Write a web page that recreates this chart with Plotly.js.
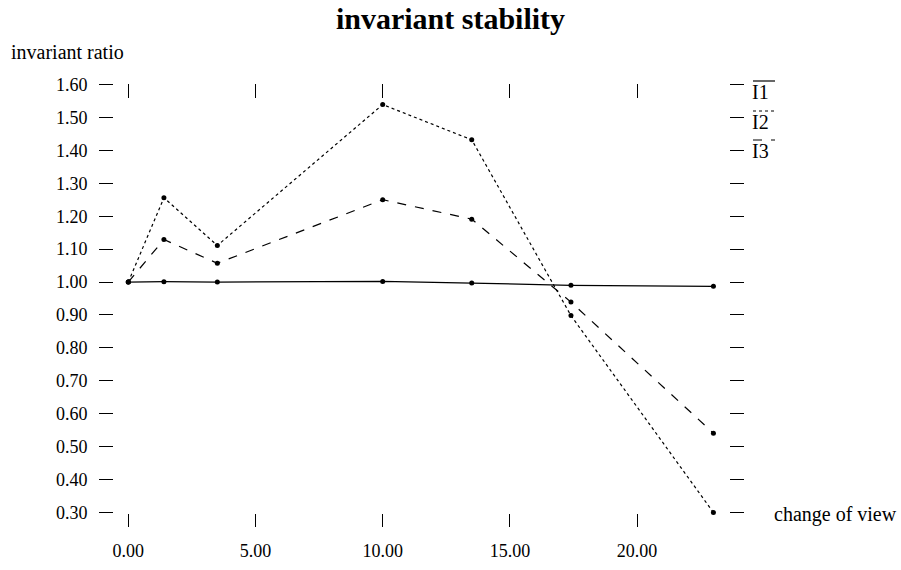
<!DOCTYPE html>
<html>
<head>
<meta charset="utf-8">
<script src="https://cdn.plot.ly/plotly-3.0.1.min.js"></script>
<style>html,body{margin:0;padding:0;background:#fff;}</style>
</head>
<body>
<div id="chart" style="width:901px;height:570px;"></div>
<script>
const changeOfView = [0, 1.4, 3.5, 10, 13.5, 17.4, 23];
const I1 = [1.0, 1.001, 1.0, 1.002, 0.997, 0.99, 0.987];
const I2 = [1.0, 1.256, 1.111, 1.539, 1.432, 0.898, 0.30];
const I3 = [1.0, 1.129, 1.057, 1.25, 1.191, 0.939, 0.541];
const seriesNames = ['I1', 'I2', 'I3'];
const xTicks = [0, 5, 10, 15, 20];
const yTicks = [0.3,0.4,0.5,0.6,0.7,0.8,0.9,1.0,1.1,1.2,1.3,1.4,1.5,1.6];

const FONT = 'Liberation Serif, Times New Roman, serif';
const dashes = ['solid', 'dot', 'dash'];
const values = [I1, I2, I3];

const L = 114, R = 729, T = 84, B = 513, W = 901, H = 570;
const px = v => (v - L) / (R - L);
const py = v => (B - v) / (B - T);

const traces = values.map((ys, i) => ({
  x: changeOfView, y: ys, type: 'scatter', mode: 'lines+markers',
  name: seriesNames[i], cliponaxis: false,
  line: {color: '#000', width: 1.2, dash: dashes[i]},
  marker: {color: '#000', size: 5},
  showlegend: false
}));

const shapes = [];
const annotations = [];
const legendY = [81, 111, 140];
seriesNames.forEach((n, i) => {
  shapes.push({type: 'line', xref: 'paper', yref: 'paper',
    x0: px(753), x1: px(775), y0: py(legendY[i]), y1: py(legendY[i]),
    line: {color: '#000', width: 1.2, dash: dashes[i]}});
  annotations.push({text: n, xref: 'paper', yref: 'paper', x: px(750), y: py(legendY[i] + 11),
    xanchor: 'left', yanchor: 'middle', showarrow: false, font: {family: FONT, size: 20, color: '#000'}});
});
annotations.push({text: 'invariant ratio', xref: 'paper', yref: 'paper', x: px(9), y: py(52),
  xanchor: 'left', yanchor: 'middle', showarrow: false, font: {family: FONT, size: 20, color: '#000'}});
annotations.push({text: 'change of view', xref: 'paper', yref: 'paper', x: px(772), y: py(514),
  xanchor: 'left', yanchor: 'middle', showarrow: false, font: {family: FONT, size: 20, color: '#000'}});

const xr = [(L - 128.3) / 25.44, (R - 128.3) / 25.44];
const layout = {
  width: W, height: H,
  margin: {l: L, r: W - R, t: T, b: H - B, pad: 0},
  paper_bgcolor: '#fff', plot_bgcolor: '#fff',
  font: {family: FONT, size: 18, color: '#000'},
  title: {text: '<b>invariant stability</b>', x: 0.5, xref: 'container', xanchor: 'center',
    y: 0.968, yref: 'container', yanchor: 'middle',
    font: {family: FONT, size: 30, color: '#000'}},
  xaxis: {range: xr, tickvals: xTicks, ticktext: xTicks.map(v => v.toFixed(2)),
    showgrid: false, zeroline: false, showline: false,
    ticks: 'outside', ticklen: 13, tickwidth: 1, tickcolor: '#000', ticklabelstandoff: 8},
  xaxis2: {range: xr, overlaying: 'x', side: 'top', tickvals: xTicks, showticklabels: false,
    showgrid: false, zeroline: false, showline: false,
    ticks: 'inside', ticklen: 14, tickwidth: 1, tickcolor: '#000'},
  yaxis: {range: [0.2985, 1.6015], tickvals: yTicks, ticktext: yTicks.map(v => v.toFixed(2)),
    showgrid: false, zeroline: false, showline: false, mirror: 'ticks',
    ticks: 'outside', ticklen: 14, tickwidth: 1, tickcolor: '#000', ticklabelstandoff: 8},
  shapes: shapes,
  annotations: annotations
};
traces.push({x: [], y: [], xaxis: 'x2', yaxis: 'y', type: 'scatter', showlegend: false, hoverinfo: 'skip'});
Plotly.newPlot('chart', traces, layout, {displayModeBar: false, staticPlot: true});
</script>
</body>
</html>
